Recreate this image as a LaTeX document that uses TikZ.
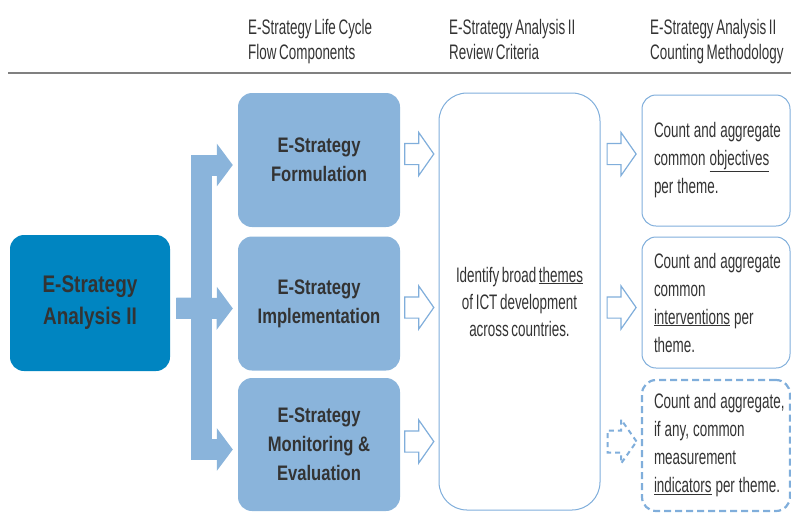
\documentclass[tikz,border=0pt]{standalone}
\usepackage{fontspec}
\setmainfont{Liberation Sans}
\newfontfamily\condfont[FakeStretch=0.64,WordSpace=0.7]{Liberation Sans}
\newfontfamily\condbold[FakeStretch=0.79]{Liberation Sans}
\usetikzlibrary{arrows.meta,shapes.arrows,positioning}
\definecolor{darkblue}{RGB}{0,133,193}
\definecolor{lightblue}{RGB}{138,180,219}
\definecolor{edgeblue}{RGB}{128,174,219}
\definecolor{textgray}{RGB}{51,51,51}
\begin{document}
\begin{tikzpicture}[x=1pt,y=-1pt,
  header/.style={anchor=north west,inner sep=0pt,align=left,font=\condfont\fontsize{21}{25}\selectfont,text=textgray},
  mainbox/.style={rounded corners=14pt,fill=darkblue,minimum width=160pt,minimum height=136pt,align=center,font=\condbold\bfseries\fontsize{24}{32}\selectfont,text=textgray},
  flowbox/.style={rounded corners=14pt,fill=lightblue,minimum width=162pt,minimum height=134pt,align=center,font=\condbold\bfseries\fontsize{21}{29}\selectfont,text=textgray},
  reviewbox/.style={draw=edgeblue,line width=1pt,rounded corners=28pt,minimum width=161pt,minimum height=417pt,align=center,font=\condfont\fontsize{21}{27}\selectfont,text=textgray},
  countbox/.style={draw=edgeblue,line width=1pt,rounded corners=14pt,minimum width=148pt,minimum height=131pt,text width=124pt,inner xsep=12pt,align=left,font=\condfont\fontsize{21}{28}\selectfont,execute at begin node={\spaceskip=4pt plus 1pt minus 1pt\relax},text=textgray},
  dashedbox/.style={line width=2.2pt,dash pattern=on 7pt off 4pt},
  hollow/.style={single arrow,draw=edgeblue,line width=1.2pt,fill=white,minimum height=29pt,inner xsep=0pt,inner ysep=10pt,single arrow head extend=11pt,single arrow tip angle=110},
  feed/.style={draw=lightblue,line width=21pt,-{Triangle[length=16pt,width=42pt]},shorten <=6pt,shorten >=5pt}
]
\useasboundingbox (0,0) rectangle (791,512);

% column headers
\node[header] (hflow) at (248,19) {E-Strategy Life Cycle\\Flow Components};
\node[header] (hreview) at (449,19) {E-Strategy Analysis II\\Review Criteria};
\node[header] (hcount) at (650,19) {E-Strategy Analysis II\\Counting Methodology};
\draw[line width=1.6pt,black!50] (8,73) -- (791,73);

% boxes
\node[mainbox] (analysis) at (90,303) {E-Strategy\\Analysis II};
\node[flowbox] (formulation) at (319,160) {E-Strategy\\Formulation};
\node[flowbox] (implementation) at (319,303.5) {E-Strategy\\Implementation};
\node[flowbox,minimum height=133pt] (monitoring) at (319,444.5) {E-Strategy\\Monitoring \&\\Evaluation};
\node[reviewbox] (review) at (519.5,301.5) {Identify broad \underline{themes}\\of ICT development\\across countries.};
\node[countbox] (objectives) at (716,160.5) {\mbox{Count and aggregate}\\\mbox{common \underline{objectives}}\\per theme.};
\node[countbox] (interventions) at (716,302.5) {\mbox{Count and aggregate}\\common\\\mbox{\underline{interventions} per}\\theme.};
\node[countbox,dashedbox] (indicators) at (716,445.5) {\mbox{Count and aggregate,}\\\mbox{if any, common}\\measurement\\\mbox{\underline{indicators} per theme.}};

% thick feed arrows
\draw[feed] ([yshift=-5pt]analysis.east) -- ++(31,0) |- ([yshift=-5pt]formulation.west);
\draw[feed] ([yshift=-5pt]analysis.east) -- ([yshift=-5pt]implementation.west);
\draw[feed] ([yshift=-5pt]analysis.east) -- ++(31,0) |- ([yshift=-5pt]monitoring.west);

% hollow arrows
\node[hollow,right=4pt of formulation,yshift=6pt] (r1) {};
\node[hollow,right=4pt of implementation,yshift=-4pt] (r2) {};
\node[hollow,right=4pt of monitoring,yshift=3pt] (r3) {};
\node[hollow,anchor=west,xshift=6pt] (c1) at (review.east |- r1) {};
\node[hollow,anchor=west,xshift=6pt] (c2) at (review.east |- r2) {};
\node[hollow,line width=2pt,dash pattern=on 5pt off 4pt,anchor=west,xshift=6pt] (c3) at (review.east |- r3) {};
\end{tikzpicture}
\end{document}
